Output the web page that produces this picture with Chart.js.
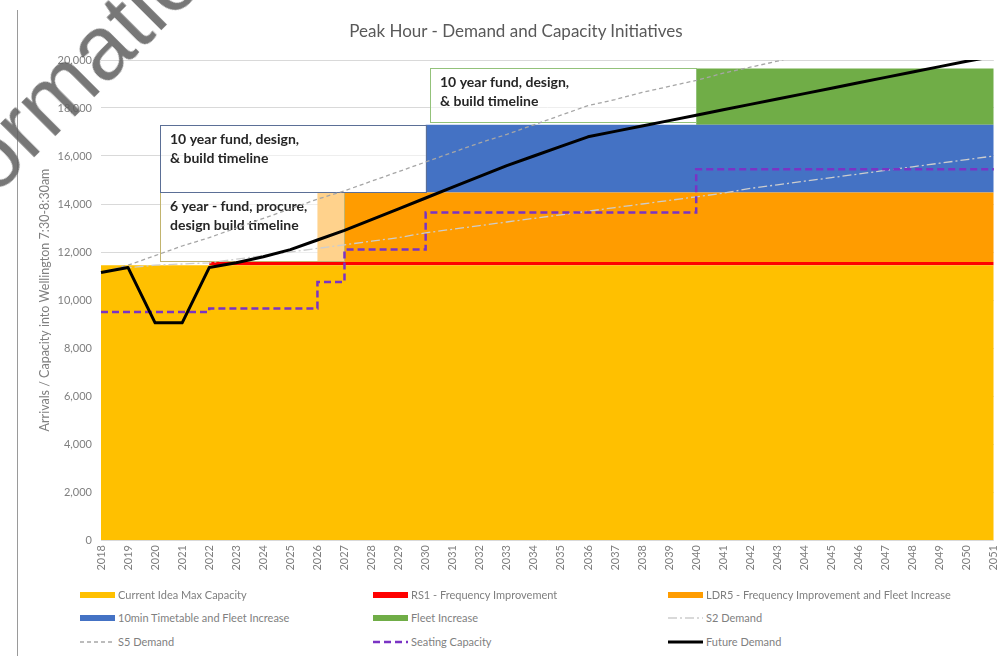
<!DOCTYPE html>
<html>
<head>
<meta charset="utf-8">
<title>Peak Hour - Demand and Capacity Initiatives</title>
<script src="https://cdn.jsdelivr.net/npm/chart.js@4.4.1/dist/chart.umd.min.js"></script>
<style>
  html, body { margin: 0; padding: 0; background: #fff; overflow: hidden; }
  #quadro { position: relative; width: 999px; height: 656px; overflow: hidden; font-family: Lato, 'Open Sans', sans-serif; }
  #grafico { position: absolute; left: 0; top: 0; }
  #titulo { position: absolute; left: 0; top: 20px; width: 1032px; text-align: center; font-size: 17px; color: #595959; }
  #moldura { position: absolute; left: 17px; top: 10px; width: 1px; height: 646px; background: #9a9a9a; }
  #legenda .item { position: absolute; height: 14px; line-height: 14px; font-size: 11px; color: #7f7f7f; white-space: nowrap; }
  #legenda canvas { vertical-align: middle; margin-right: 3px; position: relative; top: -1px; }
  #marca { position: absolute; left: -130px; top: 214px; height: 90px; line-height: 90px; font-family: 'Liberation Sans', Arial, sans-serif;
           font-size: 90px; color: rgba(95,95,95,0.85); white-space: nowrap; transform-origin: 0 0; transform: rotate(-45deg); pointer-events: none; }
</style>
</head>
<body>
<div id="quadro">
  <canvas id="grafico" width="1012" height="600"></canvas>
  <div id="titulo">Peak Hour - Demand and Capacity Initiatives</div>
  <div id="moldura"></div>
  <div id="legenda"></div>
  <div id="marca">Information</div>
</div>
<script>
// Anos (eixo x)
const anos = ['2018', '2019', '2020', '2021', '2022', '2023', '2024', '2025', '2026', '2027', '2028', '2029',
  '2030', '2031', '2032', '2033', '2034', '2035', '2036', '2037', '2038', '2039', '2040', '2041', '2042',
  '2043', '2044', '2045', '2046', '2047', '2048', '2049', '2050', '2051'];

// Faixas de capacidade (áreas empilhadas)
const currentCapacity = [11450, 11450, 11450, 11450, 11450, 11450, 11450, 11450, 11450, 11450, 11450, 11450,
  11450, 11450, 11450, 11450, 11450, 11450, 11450, 11450, 11450, 11450, 11450, 11450, 11450,
  11450, 11450, 11450, 11450, 11450, 11450, 11450, 11450, 11450];
const rs1Band = [0, 0, 0, 0, 130, 130, 130, 130, 130, 130, 130, 130,
  130, 130, 130, 130, 130, 130, 130, 130, 130, 130, 130, 130, 130,
  130, 130, 130, 130, 130, 130, 130, 130, 130];
const ldr5Band = [0, 0, 0, 0, 0, 0, 0, 0, 2900, 2900, 2900, 2900,
  2900, 2900, 2900, 2900, 2900, 2900, 2900, 2900, 2900, 2900, 2900, 2900, 2900,
  2900, 2900, 2900, 2900, 2900, 2900, 2900, 2900, 2900];
const tenMinBand = [0, 0, 0, 0, 0, 0, 0, 0, 0, 0, 0, 0,
  2820, 2820, 2820, 2820, 2820, 2820, 2820, 2820, 2820, 2820, 2820, 2820, 2820,
  2820, 2820, 2820, 2820, 2820, 2820, 2820, 2820, 2820];
const fleetBand = [0, 0, 0, 0, 0, 0, 0, 0, 0, 0, 0, 0,
  0, 0, 0, 0, 0, 0, 0, 0, 0, 0, 2350, 2350, 2350,
  2350, 2350, 2350, 2350, 2350, 2350, 2350, 2350, 2350];

// Linhas de demanda
const s2Demand = [11150, 11350, 11450, 11500, 11550, 11700, 11850, 12000, 12150, 12300, 12450, 12600,
  12800, 12950, 13100, 13250, 13400, 13550, 13700, 13850, 14000, 14150, 14300, 14450, 14650,
  14800, 14950, 15100, 15250, 15400, 15550, 15700, 15850, 16000];
const s5Demand = [11150, 11450, 11850, 12250, 12600, 13000, 13400, 13800, 14200, 14550, 14950, 15350,
  15750, 16150, 16550, 16900, 17300, 17700, 18100, 18350, 18650, 18900, 19150, 19450, 19700,
  19950, 20250, 20500, 20800, 21050, 21300, 21600, 21850, 22150];
const seatingCapacity = [9500, 9500, 9500, 9500, 9650, 9650, 9650, 9650, 10750, 12100, 12100, 12100,
  13650, 13650, 13650, 13650, 13650, 13650, 13650, 13650, 13650, 13650, 15450, 15450, 15450,
  15450, 15450, 15450, 15450, 15450, 15450, 15450, 15450, 15450];
const futureDemand = [11150, 11350, 9050, 9050, 11350, 11550, 11800, 12100, 12500, 12900, 13350, 13800,
  14250, 14700, 15150, 15600, 16000, 16400, 16800, 17025, 17250, 17475, 17700, 17925, 18150,
  18375, 18600, 18825, 19050, 19275, 19500, 19725, 19950, 20150];

// Ticks do eixo y
const yTicks = [0, 2000, 4000, 6000, 8000, 10000, 12000, 14000, 16000, 18000, 20000];

// Caixas de texto (posição em coordenadas do gráfico)
const caixas = [
  { linhas: ['6 year - fund, procure,', 'design build timeline'], x0: 2.17, x1: 9, y0: 11620, y1: 14480, borda: '#c2b46e' },
  { linhas: ['10 year fund, design,', '& build timeline'], x0: 2.17, x1: 12, y0: 14480, y1: 17300, borda: '#5b6f96' },
  { linhas: ['10 year fund, design,', '& build timeline'], x0: 12.15, x1: 22, y0: 17400, y1: 19650, borda: '#93c27a' }
];

const caixasPlugin = {
  id: 'caixas',
  afterDatasetDraw(chart, args) {
    if (!chart.data.datasets[args.index].caixasDepois) return;
    const { ctx, scales: { x, y } } = chart;
    ctx.save();
    caixas.forEach(c => {
      const l = Math.round(x.getPixelForValue(c.x0));
      const r = Math.round(x.getPixelForValue(c.x1));
      const t = Math.round(y.getPixelForValue(c.y1));
      const b = Math.round(y.getPixelForValue(c.y0));
      ctx.fillStyle = 'rgba(255,255,255,0.55)';
      ctx.fillRect(l, t, r - l, b - t);
      ctx.strokeStyle = c.borda;
      ctx.lineWidth = 1;
      ctx.strokeRect(l + 0.5, t + 0.5, r - l, b - t);
      ctx.fillStyle = '#262626';
      ctx.font = 'bold 14px Lato';
      ctx.textBaseline = 'middle';
      c.linhas.forEach((txt, i) => ctx.fillText(txt, l + 10, t + 14.5 + i * 18.5));
    });
    ctx.restore();
  }
};

// order menor = base da pilha; a última área desenhada é a de baixo
const area = { pointRadius: 0, borderWidth: 0, stepped: true, stack: 'capacidade', tipo: 'area' };

const datasets = [
  { ...area, label: 'Current Idea Max Capacity', data: currentCapacity, backgroundColor: '#FFC000', fill: 'origin', order: 10, caixasDepois: true },
  { ...area, label: 'RS1 - Frequency Improvement', data: rs1Band, backgroundColor: '#FF0000', fill: '-1', order: 11 },
  { ...area, label: 'LDR5 - Frequency Improvement and Fleet Increase', data: ldr5Band, backgroundColor: '#FF9C00', fill: '-1', order: 12 },
  { ...area, label: '10min Timetable and Fleet Increase', data: tenMinBand, backgroundColor: '#4472C4', fill: '-1', order: 13 },
  { ...area, label: 'Fleet Increase', data: fleetBand, backgroundColor: '#70AD47', fill: '-1', order: 14 },
  { label: 'S2 Demand', data: s2Demand, borderColor: '#cdcdcd', borderWidth: 1.3, borderDash: [9, 3, 2, 3],
    pointRadius: 0, fill: false, stack: 's2', order: 4 },
  { label: 'S5 Demand', data: s5Demand, borderColor: '#a6a6a6', borderWidth: 1.3, borderDash: [4, 3],
    pointRadius: 0, fill: false, stack: 's5', order: 3 },
  { label: 'Seating Capacity', data: seatingCapacity, borderColor: '#7a33c4', borderWidth: 2.5, borderDash: [7, 4],
    pointRadius: 0, fill: false, stepped: true, stack: 'seating', order: 2 },
  { label: 'Future Demand', data: futureDemand, borderColor: '#000000', borderWidth: 3, borderJoinStyle: 'round',
    pointRadius: 0, fill: false, stack: 'future', order: 1 }
];

Chart.defaults.font.family = 'Lato';

const chart = new Chart(document.getElementById('grafico'), {
  type: 'line',
  data: { labels: anos, datasets: datasets },
  options: {
    responsive: false,
    animation: false,
    events: [],
    layout: { padding: { top: 60, right: 11, bottom: 20, left: 0 } },
    plugins: {
      legend: { display: false },
      tooltip: { enabled: false },
      title: { display: false }
    },
    scales: {
      x: {
        grid: { display: false, drawTicks: false },
        border: { display: false },
        ticks: { autoSkip: false, minRotation: 90, maxRotation: 90, padding: 5, color: '#7f7f7f', font: { size: 11 } },
        afterFit: s => { s.height = 40; }
      },
      y: {
        stacked: true,
        min: 0,
        max: 20000,
        afterBuildTicks: s => { s.ticks = yTicks.map(v => ({ value: v })); },
        grid: { color: '#d9d9d9', drawTicks: false },
        border: { display: false },
        ticks: { padding: 9, color: '#7f7f7f', font: { size: 11 }, callback: v => v.toLocaleString('en-US') },
        title: { display: true, text: 'Arrivals / Capacity into Wellington 7:30-8:30am', color: '#7f7f7f',
                 font: { size: 12.5 }, padding: { top: 37, bottom: 0 } },
        afterFit: s => { s.width = 101; }
      }
    }
  },
  plugins: [caixasPlugin]
});

// Legenda em HTML, 3 colunas
const colunasX = [80, 373, 668];
const linhasY = [588, 611, 635];
const legenda = document.getElementById('legenda');
datasets.forEach((ds, i) => {
  const item = document.createElement('div');
  item.className = 'item';
  item.style.left = colunasX[i % 3] + 'px';
  item.style.top = linhasY[Math.floor(i / 3)] + 'px';
  const sw = document.createElement('canvas');
  sw.width = 35; sw.height = 10;
  const c = sw.getContext('2d');
  if (ds.tipo === 'area') {
    c.fillStyle = ds.backgroundColor;
    c.fillRect(0, 2, 35, 6);
  } else {
    c.strokeStyle = ds.borderColor;
    c.lineWidth = ds.borderWidth;
    c.setLineDash(ds.borderDash || []);
    c.beginPath(); c.moveTo(0, 5); c.lineTo(35, 5); c.stroke();
  }
  item.appendChild(sw);
  item.appendChild(document.createTextNode(ds.label));
  legenda.appendChild(item);
});
</script>
</body>
</html>
